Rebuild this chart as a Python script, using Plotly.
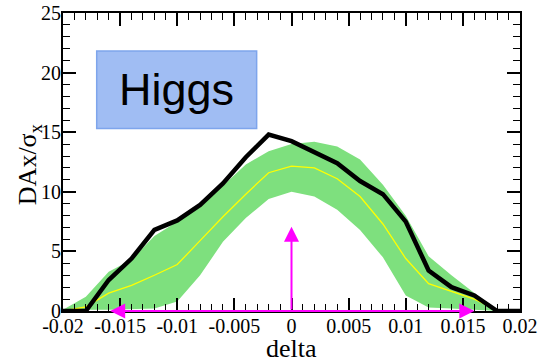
import plotly.graph_objects as go

# Scan positions in delta
delta = [-0.020, -0.018, -0.016, -0.014, -0.012, -0.010, -0.008, -0.006, -0.004, -0.002,
         0.000, 0.002, 0.004, 0.006, 0.008, 0.010, 0.012, 0.014, 0.016, 0.018, 0.020]

# Measured separation DAx/sigma_x (thick black curve)
measured = [0.0, 0.0, 2.6, 4.4, 6.8, 7.6, 8.9, 10.7, 12.9, 14.8,
            14.25, 13.3, 12.4, 10.9, 9.8, 7.5, 3.4, 2.0, 1.3, 0.0, 0.0]

# Expected mean (yellow) and its band (green)
expected = [0.0, 0.35, 1.5, 2.15, 3.0, 3.9, 5.9, 7.9, 9.8, 11.6,
            12.15, 12.0, 11.1, 9.6, 7.3, 4.4, 2.3, 1.65, 1.0, 0.1, 0.0]
band_hi = [0.1, 1.2, 3.3, 4.3, 6.3, 7.5, 8.7, 10.5, 12.3, 13.4,
           14.0, 14.2, 13.8, 12.7, 10.6, 8.0, 4.6, 3.0, 1.5, 0.1, 0.0]
band_lo = [0.0, 0.1, 0.1, 0.15, 0.2, 0.8, 3.0, 5.8, 7.8, 9.4,
           10.0, 9.6, 8.5, 6.8, 4.5, 1.3, 0.3, 0.2, 0.1, 0.0, 0.0]

# Scan window and threshold markers
window_lo, window_hi = -0.016, 0.016
threshold = 7.07

x_ticks = [-0.02, -0.015, -0.01, -0.005, 0, 0.005, 0.01, 0.015, 0.02]
x_labels = ["-0.02", "-0.015", "-0.01", "-0.005", "0", "0.005", "0.01", "0.015", "0.02"]
y_ticks = [0, 5, 10, 15, 20, 25]
y_labels = ["0", "5", "10", "15", "20", "25"]

GREEN = "rgb(126,224,126)"
MAGENTA = "#ff00ff"
SERIF = "Liberation Serif, Times New Roman, serif"

fig = go.Figure()
fig.add_trace(go.Scatter(x=delta, y=band_lo, mode="lines", line=dict(width=0, color=GREEN),
                         showlegend=False, hoverinfo="skip"))
fig.add_trace(go.Scatter(x=delta, y=band_hi, mode="lines", line=dict(width=0, color=GREEN),
                         fill="tonexty", fillcolor=GREEN, showlegend=False, hoverinfo="skip"))
fig.add_trace(go.Scatter(x=delta, y=expected, mode="lines", line=dict(width=1.3, color="#ffff00"),
                         showlegend=False))
fig.add_trace(go.Scatter(x=delta, y=measured, mode="lines", line=dict(width=4.5, color="black"),
                         cliponaxis=False, showlegend=False))

# Horizontal double arrow spanning the scan window
fig.add_annotation(x=window_hi, y=0, ax=window_lo, ay=0, xref="x", yref="y", axref="x", ayref="y",
                   showarrow=True, arrowside="end+start", arrowhead=2, arrowsize=1.5,
                   arrowwidth=2, arrowcolor=MAGENTA, text="")
# Vertical arrow at delta = 0
fig.add_annotation(x=0, y=threshold, ax=0, ay=0, xref="x", yref="y", axref="x", ayref="y",
                   showarrow=True, arrowhead=2, arrowsize=1.5, arrowwidth=2,
                   arrowcolor=MAGENTA, text="")

# Label box
fig.add_shape(type="rect", xref="x", yref="y", x0=-0.01705, x1=-0.00305, y0=15.31, y1=21.82,
              fillcolor="#a0bdf3", line=dict(color="#7ea5ec", width=1.5), layer="above")
fig.add_annotation(x=-0.01005, y=18.56, xref="x", yref="y", text="Higgs", showarrow=False,
                   font=dict(family="Liberation Sans, Arial, sans-serif", size=45, color="black"))

# Axis titles
fig.add_annotation(xref="paper", yref="paper", x=-0.074, y=0.49, xanchor="center", yanchor="middle",
                   text="DAx/σ<sub>x</sub>", textangle=-90, showarrow=False,
                   font=dict(family=SERIF, size=26, color="black"))
fig.add_annotation(xref="paper", yref="paper", x=0.499, y=-0.126, xanchor="center", yanchor="middle",
                   text="delta", showarrow=False,
                   font=dict(family=SERIF, size=26, color="black"))

tick_common = dict(ticks="inside", tickcolor="black", tickwidth=1.5, ticklen=13,
                   showgrid=False, zeroline=False, automargin=False,
                   showline=True, linecolor="black", linewidth=2, mirror="allticks",
                   tickfont=dict(family=SERIF, size=20, color="black"))

fig.update_layout(
    template="none",
    xaxis=dict(range=[-0.02, 0.02], tickvals=x_ticks, ticktext=x_labels, ticklabelstandoff=-4,
               minor=dict(dtick=0.001, tick0=0, ticks="inside", ticklen=7, tickwidth=1.2,
                          tickcolor="black", showgrid=False),
               **tick_common),
    yaxis=dict(range=[0, 25], tickvals=y_ticks, ticktext=y_labels, ticklabelstandoff=-4,
               minor=dict(dtick=1, tick0=0, ticks="inside", ticklen=7, tickwidth=1.2,
                          tickcolor="black", showgrid=False),
               **tick_common),
    width=539, height=362, margin=dict(l=63, r=19, t=13, b=51),
    plot_bgcolor="white", paper_bgcolor="white",
)

fig.write_html("out.html")
